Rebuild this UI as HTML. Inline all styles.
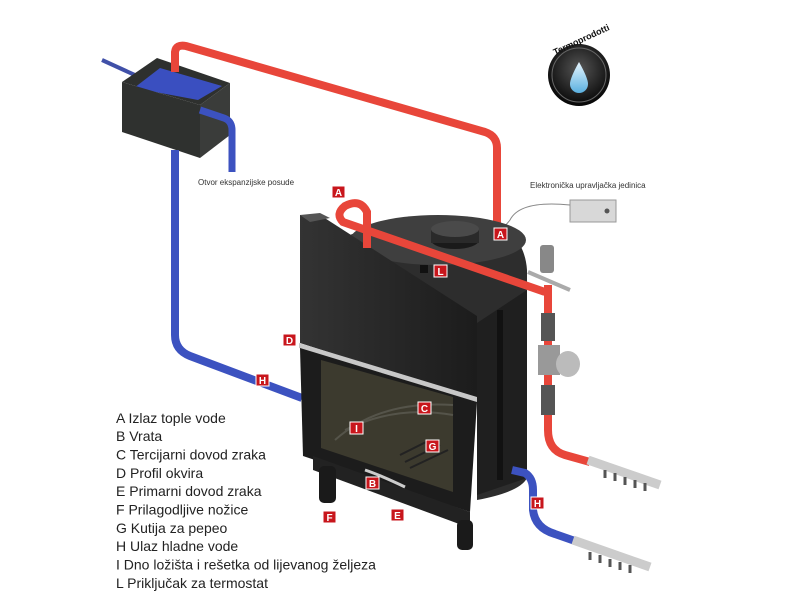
<!DOCTYPE html>
<html><head><meta charset="utf-8"><style>
html,body{margin:0;padding:0;background:#fff;}
svg{display:block}
.lg{font-family:"Liberation Sans",sans-serif;font-size:14px;fill:#222}
.sm{font-family:"Liberation Sans",sans-serif;font-size:8px;fill:#333}
.lb{font-family:"Liberation Sans",sans-serif;font-size:10px;font-weight:bold;fill:#fff}
</style></head><body>
<svg width="800" height="600" viewBox="0 0 800 600" xmlns="http://www.w3.org/2000/svg">
<rect width="800" height="600" fill="#fff"/>
<defs>
<radialGradient id="lg1" cx="50%" cy="40%" r="60%"><stop offset="0" stop-color="#555"/><stop offset="1" stop-color="#050505"/></radialGradient>
<linearGradient id="drop" x1="0" y1="0" x2="0" y2="1"><stop offset="0" stop-color="#e8f6ff"/><stop offset="1" stop-color="#5ab0e0"/></linearGradient>
<linearGradient id="body" x1="0" y1="0" x2="1" y2="0"><stop offset="0" stop-color="#333"/><stop offset="1" stop-color="#1c1c1c"/></linearGradient>
</defs>

<!-- tank -->
<polyline points="102,60 137,76" fill="none" stroke="#4050a8" stroke-width="4"/>
<polygon points="122,82 157,58 230,83 200,105" fill="#2e302e"/>
<polygon points="134,88 160,68 222,86 198,100" fill="#3a4fc0"/>
<polygon points="122,82 200,105 200,158 122,132" fill="#2f312f"/>
<polygon points="200,105 230,83 230,135 200,158" fill="#3a3c3a"/>
<path d="M200,110 L224,118 Q232,121 232,130 L232,172" fill="none" stroke="#3c52c0" stroke-width="7"/>
<path d="M175,150 L175,335 Q175,350 190,356 L302,398" fill="none" stroke="#3c52c0" stroke-width="8"/>
<!-- red top pipe -->
<path d="M175,72 L175,52 Q176,44 186,46 L485,132 Q497,136 497,148 L497,288" fill="none" stroke="#e8463a" stroke-width="8"/>
<text class="sm" x="198" y="185">Otvor ekspanzijske posude</text>
<text class="sm" x="530" y="188">Elektronička upravljačka jedinica</text>
<rect x="570" y="200" width="46" height="22" fill="#d8d8d8" stroke="#999"/>
<circle cx="607" cy="211" r="2.5" fill="#555"/>
<path d="M570,205 Q520,200 510,220 Q495,240 470,238" fill="none" stroke="#888" stroke-width="1"/>

<!-- logo -->
<circle cx="579" cy="75" r="31" fill="url(#lg1)"/>
<circle cx="579" cy="75" r="27" fill="none" stroke="#666" stroke-width="1"/>
<path d="M579,62 Q570,78 570,84 A9,9 0 0 0 588,84 Q588,78 579,62Z" fill="url(#drop)"/>
<text font-family="Liberation Sans,sans-serif" font-size="9" font-weight="bold" fill="#111" x="552" y="48" transform="rotate(-25 570 45)">Termoprodotti</text>

<!-- stove cylinder body -->
<path d="M350,235 Q420,205 500,225 Q525,240 527,270 L527,478 Q520,492 477,500 L477,323 Z" fill="#2d2d2d"/>
<ellipse cx="438" cy="240" rx="88" ry="25" fill="#3f3f3f"/>
<polygon points="477,323 527,290 527,478 477,495" fill="#1f1f1f"/>
<rect x="497" y="310" width="6" height="170" fill="#111"/>
<ellipse cx="455" cy="240" rx="24" ry="9" fill="#1a1a1a"/>
<rect x="431" y="229" width="48" height="14" fill="#2a2a2a"/>
<ellipse cx="455" cy="229" rx="24" ry="8" fill="#4a4a4a"/>
<rect x="420" y="265" width="8" height="8" fill="#111"/>
<!-- front panel -->
<polygon points="300,215 320,215 477,316 477,400 300,343" fill="url(#body)"/>
<polygon points="300,215 320,213 330,218 310,222" fill="#555"/>
<polygon points="299,343 477,397 477,402 299,348" fill="#c8c8c8"/>
<!-- door -->
<polygon points="300,348 477,402 470,512 303,456" fill="#1c1c1c"/>
<polygon points="321,360 453,397 453,492 321,448" fill="#3c3a2e"/>
<path d="M335,440 Q380,400 453,405" fill="none" stroke="#55544a" stroke-width="2"/>
<path d="M345,430 Q395,405 453,415" fill="none" stroke="#55544a" stroke-width="2"/>
<g stroke="#222" stroke-width="2"><line x1="400" y1="455" x2="430" y2="440"/><line x1="405" y1="462" x2="440" y2="445"/><line x1="410" y1="468" x2="448" y2="450"/></g>
<path d="M365,470 Q380,475 405,487" fill="none" stroke="#ccc" stroke-width="3"/>
<!-- base -->
<polygon points="313,456 470,512 470,528 313,470" fill="#222"/>
<rect x="319" y="466" width="17" height="37" rx="5" fill="#1a1a1a"/>
<rect x="457" y="520" width="16" height="30" rx="5" fill="#1a1a1a"/>

<!-- red loop pipe -->
<path d="M367,248 L367,212 Q360,198 345,206 Q335,214 343,222 L545,292" fill="none" stroke="#e8463a" stroke-width="8"/>
<!-- valve assembly -->
<rect x="540" y="245" width="14" height="28" rx="3" fill="#888"/>
<line x1="528" y1="272" x2="570" y2="290" stroke="#aaa" stroke-width="4"/>
<path d="M548,285 L548,430 Q548,450 565,455 L590,462" fill="none" stroke="#e8463a" stroke-width="8"/>
<rect x="541" y="313" width="14" height="28" fill="#555"/>
<rect x="538" y="345" width="22" height="30" fill="#999"/>
<ellipse cx="568" cy="364" rx="12" ry="13" fill="#bbb"/>
<rect x="541" y="385" width="14" height="30" fill="#555"/>
<path d="M588,460 L660,485" stroke="#ccc" stroke-width="9"/>
<g stroke="#555" stroke-width="3"><line x1="605" y1="470" x2="605" y2="478"/><line x1="615" y1="473" x2="615" y2="481"/><line x1="625" y1="477" x2="625" y2="485"/><line x1="635" y1="480" x2="635" y2="488"/><line x1="645" y1="483" x2="645" y2="491"/></g>
<!-- blue bottom pipe -->
<path d="M512,470 L525,473 Q533,478 533,490 L533,510 Q535,528 555,534 L575,541" fill="none" stroke="#3c52c0" stroke-width="8"/>
<path d="M573,540 L650,567" stroke="#ccc" stroke-width="9"/>
<g stroke="#555" stroke-width="3"><line x1="590" y1="552" x2="590" y2="560"/><line x1="600" y1="555" x2="600" y2="563"/><line x1="610" y1="559" x2="610" y2="567"/><line x1="620" y1="562" x2="620" y2="570"/><line x1="630" y1="565" x2="630" y2="573"/></g>

<!-- labels -->
<g fill="#c8161c" stroke="#fff" stroke-width="1">
<rect x="332" y="186" width="13" height="12"/><rect x="494" y="228" width="13" height="12"/>
<rect x="434" y="265" width="13" height="12"/><rect x="283" y="334" width="13" height="12"/>
<rect x="256" y="374" width="13" height="12"/><rect x="418" y="402" width="13" height="12"/>
<rect x="350" y="422" width="13" height="12"/><rect x="426" y="440" width="13" height="12"/>
<rect x="366" y="477" width="13" height="12"/><rect x="391" y="509" width="13" height="12"/>
<rect x="323" y="511" width="13" height="12"/><rect x="531" y="497" width="13" height="12"/>
</g>
<g class="lb" text-anchor="middle">
<text x="338.5" y="196">A</text><text x="500.5" y="238">A</text><text x="440.5" y="275">L</text>
<text x="289.5" y="344">D</text><text x="262.5" y="384">H</text><text x="424.5" y="412">C</text>
<text x="356.5" y="432">I</text><text x="432.5" y="450">G</text><text x="372.5" y="487">B</text>
<text x="397.5" y="519">E</text><text x="329.5" y="521">F</text><text x="537.5" y="507">H</text>
</g>

<!-- legend -->
<g class="lg">
<text x="116" y="423">A Izlaz tople vode</text>
<text x="116" y="441">B Vrata</text>
<text x="116" y="459.5">C Tercijarni dovod zraka</text>
<text x="116" y="478">D Profil okvira</text>
<text x="116" y="496">E Primarni dovod zraka</text>
<text x="116" y="514.5">F Prilagodljive nožice</text>
<text x="116" y="533">G Kutija za pepeo</text>
<text x="116" y="551">H Ulaz hladne vode</text>
<text x="116" y="569.5">I  Dno ložišta i rešetka od lijevanog željeza</text>
<text x="116" y="588">L  Priključak za termostat</text>
</g>
</svg>
</body></html>
